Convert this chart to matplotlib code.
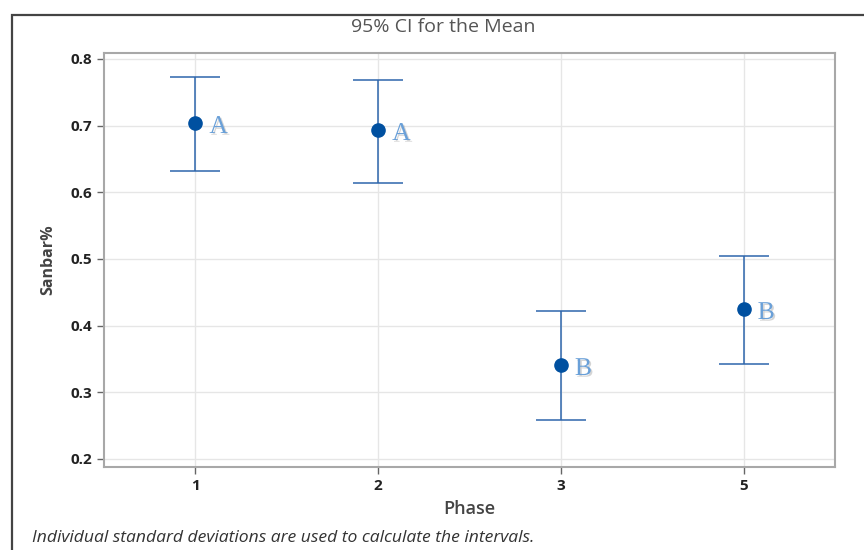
import matplotlib
matplotlib.use("Agg")
import matplotlib.pyplot as plt
import matplotlib.patheffects as pe
from matplotlib.patches import Rectangle

phases = ["1", "2", "3", "5"]
means = [0.704, 0.6935, 0.341, 0.425]
upper = [0.773, 0.7685, 0.422, 0.5045]
lower = [0.632, 0.614, 0.2585, 0.3425]
groups = ["A", "A", "B", "B"]
yticks = [0.2, 0.3, 0.4, 0.5, 0.6, 0.7, 0.8]

fig = plt.figure(figsize=(8.64, 5.5), dpi=100)
W, H = 864, 550
ax = fig.add_axes([104 / W, 1 - 467 / H, (835 - 104) / W, (467 - 53) / H])

x = list(range(len(phases)))
yerr = [[m - l for m, l in zip(means, lower)], [u - m for m, u in zip(means, upper)]]
ax.errorbar(x, means, yerr=yerr, fmt="none", ecolor="#2e66ac", elinewidth=1.1,
            capsize=18, capthick=1.1, zorder=3)
ax.plot(x, means, "o", color="#0050a0", markersize=9.5, zorder=4, linestyle="none")

for xi, m, g in zip(x, means, groups):
    ax.annotate(g, (xi, m), xytext=(14, -4), textcoords="offset pixels",
                ha="left", va="center", fontsize=18.5, family="Liberation Serif",
                color="#6aa0d8", zorder=5,
                path_effects=[pe.withSimplePatchShadow(offset=(1.2, -1.2), shadow_rgbFace="#888888", alpha=0.35)])

ax.set_xlim(-0.5, 3.5)
ax.set_ylim(0.188, 0.809)
ax.set_xticks(x)
ax.set_xticklabels(phases)
ax.set_yticks(yticks)
ax.set_yticklabels([f"{v:.1f}" for v in yticks])
ax.grid(True, color="#e6e6e6", linewidth=1)
ax.set_axisbelow(True)
for s in ax.spines.values():
    s.set_color("#a8a8a8")
    s.set_linewidth(1.5)
ax.tick_params(axis="both", colors="#666666", labelcolor="#222222", length=5, width=1,
               labelsize=11)
for lab in ax.get_xticklabels() + ax.get_yticklabels():
    lab.set_fontfamily("Open Sans")
    lab.set_fontweight("bold")
ax.tick_params(axis="x", pad=4)

ax.set_xlabel("Phase", fontsize=13, family="Open Sans", fontweight="semibold", color="#444444", labelpad=5)
ax.set_ylabel("Sanbar%", fontsize=11.5, family="Open Sans", fontweight="bold", color="#444444", labelpad=10)

fig.text(443 / W, 1 - 27 / H, "95% CI for the Mean", ha="center", va="center",
         fontsize=14, family="Open Sans", color="#555555")
fig.text(32 / W, 1 - 538 / H, "Individual standard deviations are used to calculate the intervals.",
         ha="left", va="center", fontsize=12.6, family="Open Sans", style="italic", color="#333333")

border = Rectangle((12 / W, -0.1), 1.2, 1 - 15 / H + 0.1, transform=fig.transFigure,
                   fill=False, edgecolor="#444444", linewidth=1.6, clip_on=False)
fig.patches.append(border)

fig.savefig("out.png", dpi=100)
